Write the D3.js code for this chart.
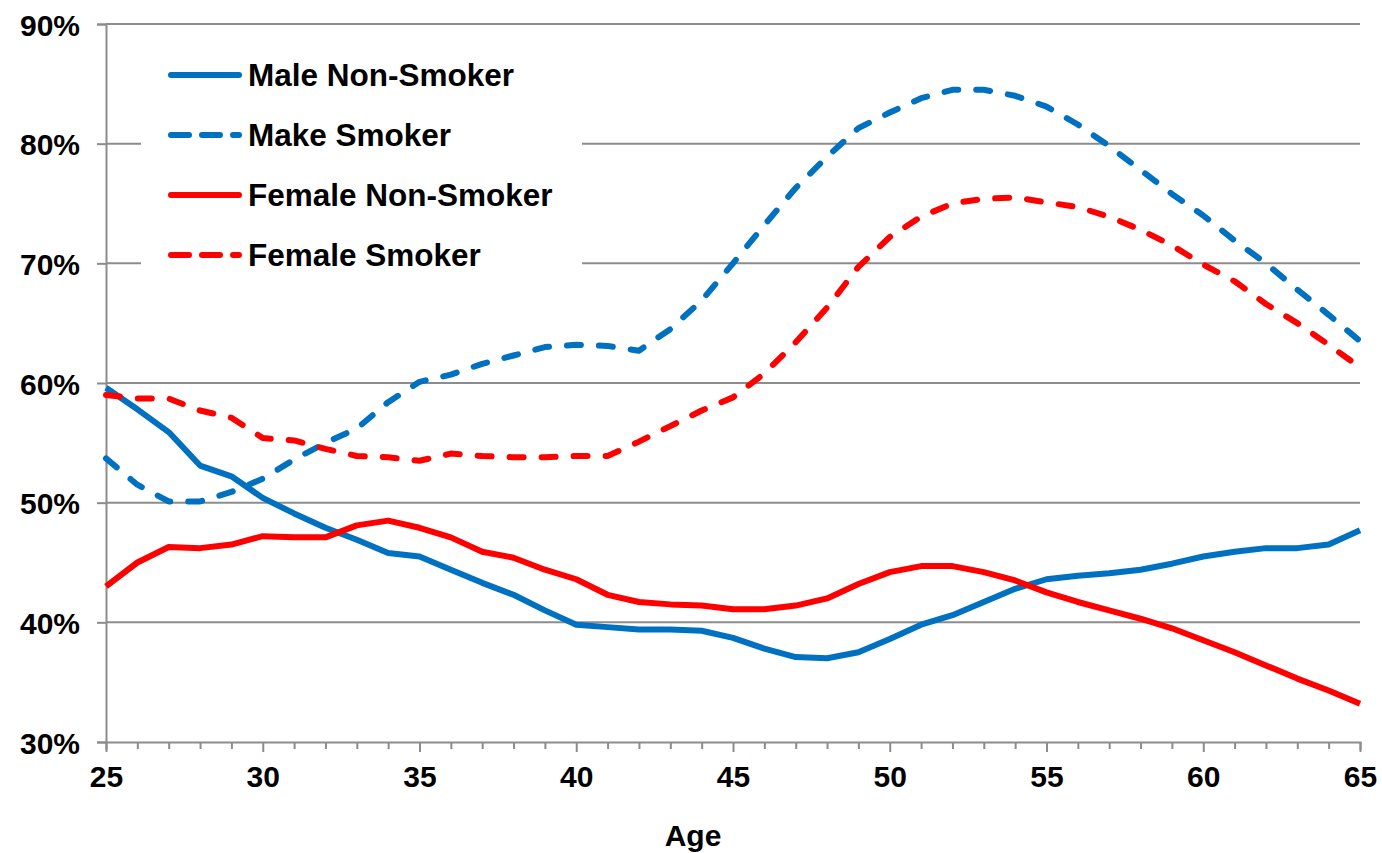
<!DOCTYPE html>
<html>
<head>
<meta charset="utf-8">
<script src="https://cdn.jsdelivr.net/npm/d3@7"></script>
<style>
  html, body { margin: 0; padding: 0; background: #fff; }
  svg text { font-family: "Liberation Sans", Arial, sans-serif; font-weight: bold; fill: #000; }
</style>
</head>
<body>
<svg id="chart" width="1382" height="853"></svg>
<script>
const ages = [25,26,27,28,29,30,31,32,33,34,35,36,37,38,39,40,41,42,43,44,45,46,47,48,49,50,51,52,53,54,55,56,57,58,59,60,61,62,63,64,65];
const maleNonSmoker = [59.6,57.8,55.9,53.1,52.2,50.4,49.1,47.9,46.9,45.8,45.5,44.4,43.3,42.3,41.0,39.8,39.6,39.4,39.4,39.3,38.7,37.8,37.1,37.0,37.5,38.6,39.8,40.6,41.7,42.8,43.6,43.9,44.1,44.4,44.9,45.5,45.9,46.2,46.2,46.5,47.7];
const maleSmoker = [53.7,51.5,50.1,50.1,50.9,52.0,53.6,55.0,56.2,58.4,60.1,60.7,61.6,62.3,63.0,63.2,63.1,62.7,64.5,66.9,70.0,73.2,76.3,78.9,81.3,82.6,83.8,84.5,84.5,84.0,83.1,81.6,79.8,77.8,75.8,74.0,71.9,70.0,67.8,65.7,63.5];
const femaleNonSmoker = [43.0,45.0,46.3,46.2,46.5,47.2,47.1,47.1,48.1,48.5,47.9,47.1,45.9,45.4,44.4,43.6,42.3,41.7,41.5,41.4,41.1,41.1,41.4,42.0,43.2,44.2,44.7,44.7,44.2,43.5,42.5,41.7,41.0,40.3,39.5,38.5,37.5,36.4,35.3,34.3,33.2];
const femaleSmoker = [59.0,58.7,58.7,57.7,57.1,55.4,55.2,54.5,53.9,53.8,53.5,54.1,53.9,53.8,53.8,53.9,53.9,55.1,56.4,57.7,58.8,60.8,63.4,66.3,69.7,72.2,73.9,75.0,75.4,75.5,75.1,74.7,73.9,72.8,71.5,69.9,68.5,66.6,65.0,63.2,61.3];
const yTicks = [30,40,50,60,70,80,90];
const xLabelTicks = [25,30,35,40,45,50,55,60,65];
const seriesNames = ["Male Non-Smoker","Make Smoker","Female Non-Smoker","Female Smoker"];

const series = [
  {name: seriesNames[0], values: maleNonSmoker, color: "#0070C0", dashed: false},
  {name: seriesNames[1], values: maleSmoker, color: "#0070C0", dashed: true},
  {name: seriesNames[2], values: femaleNonSmoker, color: "#FF0000", dashed: false},
  {name: seriesNames[3], values: femaleSmoker, color: "#FF0000", dashed: true}
];

const svg = d3.select("#chart");
const L = 106, R = 1360, T = 24, B = 742;
const x = d3.scaleLinear().domain([25,65]).range([L,R]);
const y = d3.scaleLinear().domain([30,90]).range([B,T]);
const gridColor = "#8c8c8c";

// gridlines
svg.append("g").selectAll("line").data(yTicks.filter(t => t > 30)).join("line")
  .attr("x1", L).attr("x2", R)
  .attr("y1", d => y(d)).attr("y2", d => y(d))
  .attr("stroke", gridColor).attr("stroke-width", 2);

// legend background (covers gridlines)
svg.append("rect").attr("x", 141).attr("y", 46).attr("width", 441).attr("height", 238).attr("fill", "#fff");

// y axis
const yAxis = svg.append("g").attr("transform", `translate(${L},0)`)
  .call(d3.axisLeft(y).tickValues(yTicks).tickSize(9).tickPadding(17).tickFormat(d => d + "%"));
yAxis.select(".domain").attr("stroke", gridColor).attr("stroke-width", 2);
yAxis.selectAll(".tick line").attr("stroke", gridColor).attr("stroke-width", 2);
yAxis.selectAll(".tick text").attr("font-size", 30).attr("dy", "0.37em");

// x axis
const xAxis = svg.append("g").attr("transform", `translate(0,${B})`)
  .call(d3.axisBottom(x).tickValues(ages).tickSize(8).tickPadding(16)
    .tickFormat(d => xLabelTicks.includes(d) ? d : ""));
xAxis.select(".domain").attr("stroke", gridColor).attr("stroke-width", 2);
xAxis.selectAll(".tick line").attr("stroke", gridColor).attr("stroke-width", 2)
  .attr("y2", d => xLabelTicks.includes(d) ? 10 : 7);
xAxis.selectAll(".tick text").attr("font-size", 30);

svg.append("text").attr("x", 693).attr("y", 846).attr("text-anchor", "middle")
  .attr("font-size", 30).text("Age");

// lines
const line = d3.line().x((d, i) => x(ages[i])).y(d => y(d));
svg.append("g").selectAll("path").data(series).join("path")
  .attr("d", d => line(d.values))
  .attr("fill", "none")
  .attr("stroke", d => d.color)
  .attr("stroke-width", 6)
  .attr("stroke-linejoin", "round")
  .attr("stroke-linecap", d => d.dashed ? "round" : "butt")
  .attr("stroke-dasharray", d => d.dashed ? "14,18" : null);

// legend
const lg = svg.append("g");
const rows = lg.selectAll("g").data(series).join("g")
  .attr("transform", (d, i) => `translate(0,${75 + i * 60})`);
rows.append("line").attr("x1", 171).attr("x2", 239).attr("y1", 0).attr("y2", 0)
  .attr("stroke", d => d.color).attr("stroke-width", 6).attr("stroke-linecap", "round")
  .attr("stroke-dasharray", d => d.dashed ? "18,13" : null);
rows.append("text").attr("x", 248).attr("y", 11)
  .attr("font-size", 31.5).text(d => d.name);
</script>
</body>
</html>
